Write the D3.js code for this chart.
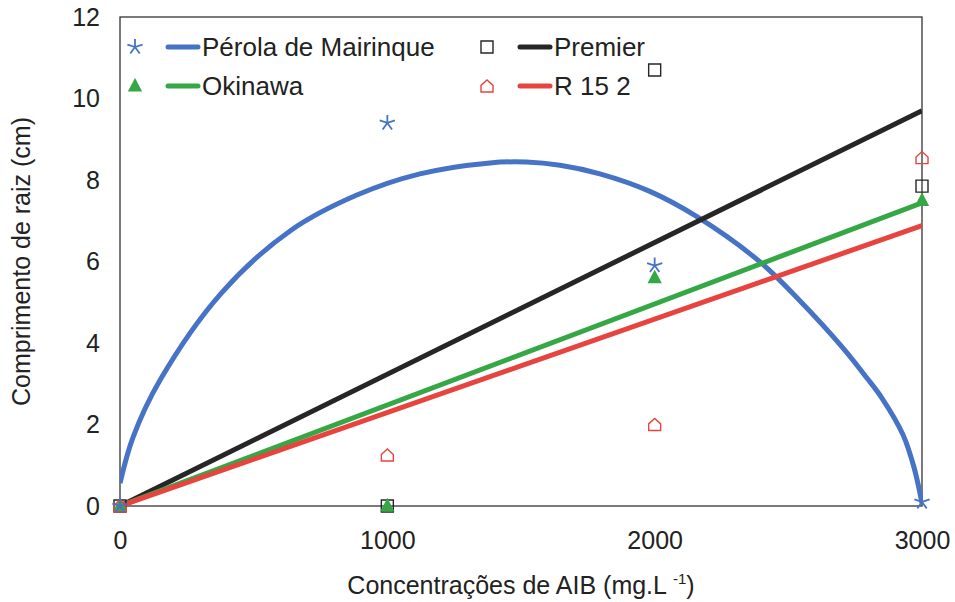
<!DOCTYPE html>
<html>
<head>
<meta charset="utf-8">
<script src="https://cdn.jsdelivr.net/npm/d3@7"></script>
<style>
  body { margin: 0; background: #fff; }
  svg { font-family: "Liberation Sans", Arial, sans-serif; }
</style>
</head>
<body>
<div id="chart"></div>
<script>
// AIB concentrations (mg/L)
const concentrations = [0, 1000, 2000, 3000];

// root length (cm) per cultivar
const perola  = [0, 9.4, 5.9, 0.1];
const premier = [0, 0, 10.7, 7.85];
const okinawa = [0, 0, 5.6, 7.5];
const r152    = [0, 1.25, 2.0, 8.55];

// trend lines as drawn in the figure
// straight ones go from the origin to these values at 3000
const linearTrendEnd = { premier: 9.7, okinawa: 7.44, r152: 6.88 };
// the Pérola curve, traced at these concentrations
const perolaTrendX = [0, 49, 150, 380, 636, 886, 1122, 1384, 1520, 1646, 1795, 1982, 2158, 2394, 2544, 2704, 2794, 2850, 2929, 2970, 3000];
const perolaTrendY = [0.56, 1.69, 3.09, 5.23, 6.75, 7.63, 8.15, 8.42, 8.44, 8.36, 8.15, 7.72, 7.1, 5.99, 5.03, 3.88, 3.14, 2.65, 1.75, 0.95, 0.07];

const xTicks = [0, 1000, 2000, 3000];
const yTicks = [0, 2, 4, 6, 8, 10, 12];

const series = [
    { name: "Pérola de Mairinque", key: "perola", values: perola, color: "#4673c6", marker: "star" },
    { name: "Premier", key: "premier", values: premier, color: "#262626", marker: "square" },
    { name: "Okinawa", key: "okinawa", values: okinawa, color: "#35a845", marker: "triangle" },
    { name: "R 15 2", key: "r152", values: r152, color: "#e8443f", marker: "house" }
];

const width = 955, height = 602;
const margin = { top: 17, right: 33, bottom: 96, left: 120 };

const svg = d3.select("#chart").append("svg")
    .attr("width", width)
    .attr("height", height);

const x = d3.scaleLinear().domain([0, 3000]).range([margin.left, width - margin.right]);
const y = d3.scaleLinear().domain([0, 12]).range([height - margin.bottom, margin.top]);

// clip to plot area
svg.append("clipPath").attr("id", "plotClip")
    .append("rect")
    .attr("x", x(0)).attr("y", y(12))
    .attr("width", x(3000) - x(0)).attr("height", y(0) - y(12));

// frame
svg.append("rect")
    .attr("x", x(0)).attr("y", y(12))
    .attr("width", x(3000) - x(0)).attr("height", y(0) - y(12))
    .attr("fill", "none")
    .attr("stroke", "#333")
    .attr("stroke-width", 1.3);

// axes (labels only, no tick marks)
const xAxis = svg.append("g")
    .attr("transform", `translate(0,${y(0)})`)
    .call(d3.axisBottom(x).tickValues(xTicks).tickSize(0).tickPadding(25).tickFormat(d3.format("d")));
xAxis.select(".domain").remove();
xAxis.selectAll("text").attr("font-size", 25).attr("fill", "#222").attr("font-family", null);

const yAxis = svg.append("g")
    .attr("transform", `translate(${x(0)},0)`)
    .call(d3.axisLeft(y).tickValues(yTicks).tickSize(0).tickPadding(20).tickFormat(d3.format("d")));
yAxis.select(".domain").remove();
yAxis.selectAll("text").attr("font-size", 25).attr("fill", "#222").attr("font-family", null);

// axis titles
svg.append("text")
    .attr("transform", `translate(30,${(y(0) + y(12)) / 2}) rotate(-90)`)
    .attr("text-anchor", "middle")
    .attr("font-size", 25)
    .attr("fill", "#222")
    .text("Comprimento de raiz (cm)");

const xt = svg.append("text")
    .attr("x", (x(0) + x(3000)) / 2)
    .attr("y", 594)
    .attr("text-anchor", "middle")
    .attr("font-size", 25)
    .attr("fill", "#222");
xt.append("tspan").text("Concentrações de AIB (mg.L ");
xt.append("tspan").attr("font-size", 15).attr("dy", -10).text("-1");
xt.append("tspan").attr("dy", 10).text(")");

// trend lines
const lineGroup = svg.append("g").attr("clip-path", "url(#plotClip)");

series.forEach(s => {
    let pts;
    if (s.key === "perola") {
        pts = perolaTrendX.map((v, i) => [v, perolaTrendY[i]]);
    } else {
        pts = [[0, 0], [3000, linearTrendEnd[s.key]]];
    }
    lineGroup.append("path")
        .datum(pts)
        .attr("fill", "none")
        .attr("stroke", s.color)
        .attr("stroke-width", 5)
        .attr("d", d3.line().curve(d3.curveCatmullRom.alpha(0.5)).x(d => x(d[0])).y(d => y(d[1])));
});

// marker shapes
function markerPath(type, r) {
    if (type === "square") return `M${-r},${-r}H${r}V${r}H${-r}Z`;
    if (type === "triangle") return `M0,${-r * 1.1}L${r},${r * 0.8}L${-r},${r * 0.8}Z`;
    if (type === "house") return `M${-r},${r}H${r}V${-r * 0.1}L0,${-r}L${-r},${-r * 0.1}Z`;
    // five armed asterisk
    let p = "";
    for (let i = 0; i < 5; i++) {
        let a = -Math.PI / 2 + i * 2 * Math.PI / 5;
        p += `M0,0L${(r * Math.cos(a)).toFixed(2)},${(r * Math.sin(a)).toFixed(2)}`;
    }
    return p;
}

function drawMarker(g, type, color, cx, cy) {
    let filled = type === "triangle";
    let r = type === "star" ? 8 : 6;
    g.append("path")
        .attr("transform", `translate(${cx},${cy})`)
        .attr("d", markerPath(type, r))
        .attr("fill", filled ? color : "none")
        .attr("stroke", color)
        .attr("stroke-width", type === "star" ? 1.8 : 1.4);
}

// data points
const pointGroup = svg.append("g");
[1, 2, 3, 0].forEach(k => {
    let s = series[k];
    s.values.forEach((v, i) => drawMarker(pointGroup, s.marker, s.color, x(concentrations[i]), y(v)));
});

// legend
const legendPos = [[135, 47], [487, 47], [135, 86], [487, 86]];
series.forEach((s, i) => {
    let [lx, ly] = legendPos[i];
    let g = svg.append("g");
    drawMarker(g, s.marker, s.color, lx, ly);
    g.append("line")
        .attr("x1", lx + 33).attr("x2", lx + 63)
        .attr("y1", ly).attr("y2", ly)
        .attr("stroke", s.color)
        .attr("stroke-width", 5)
        .attr("stroke-linecap", "round");
    g.append("text")
        .attr("x", lx + 67)
        .attr("y", ly + 9)
        .attr("font-size", 26)
        .attr("fill", "#222")
        .text(s.name);
});
</script>
</body>
</html>
